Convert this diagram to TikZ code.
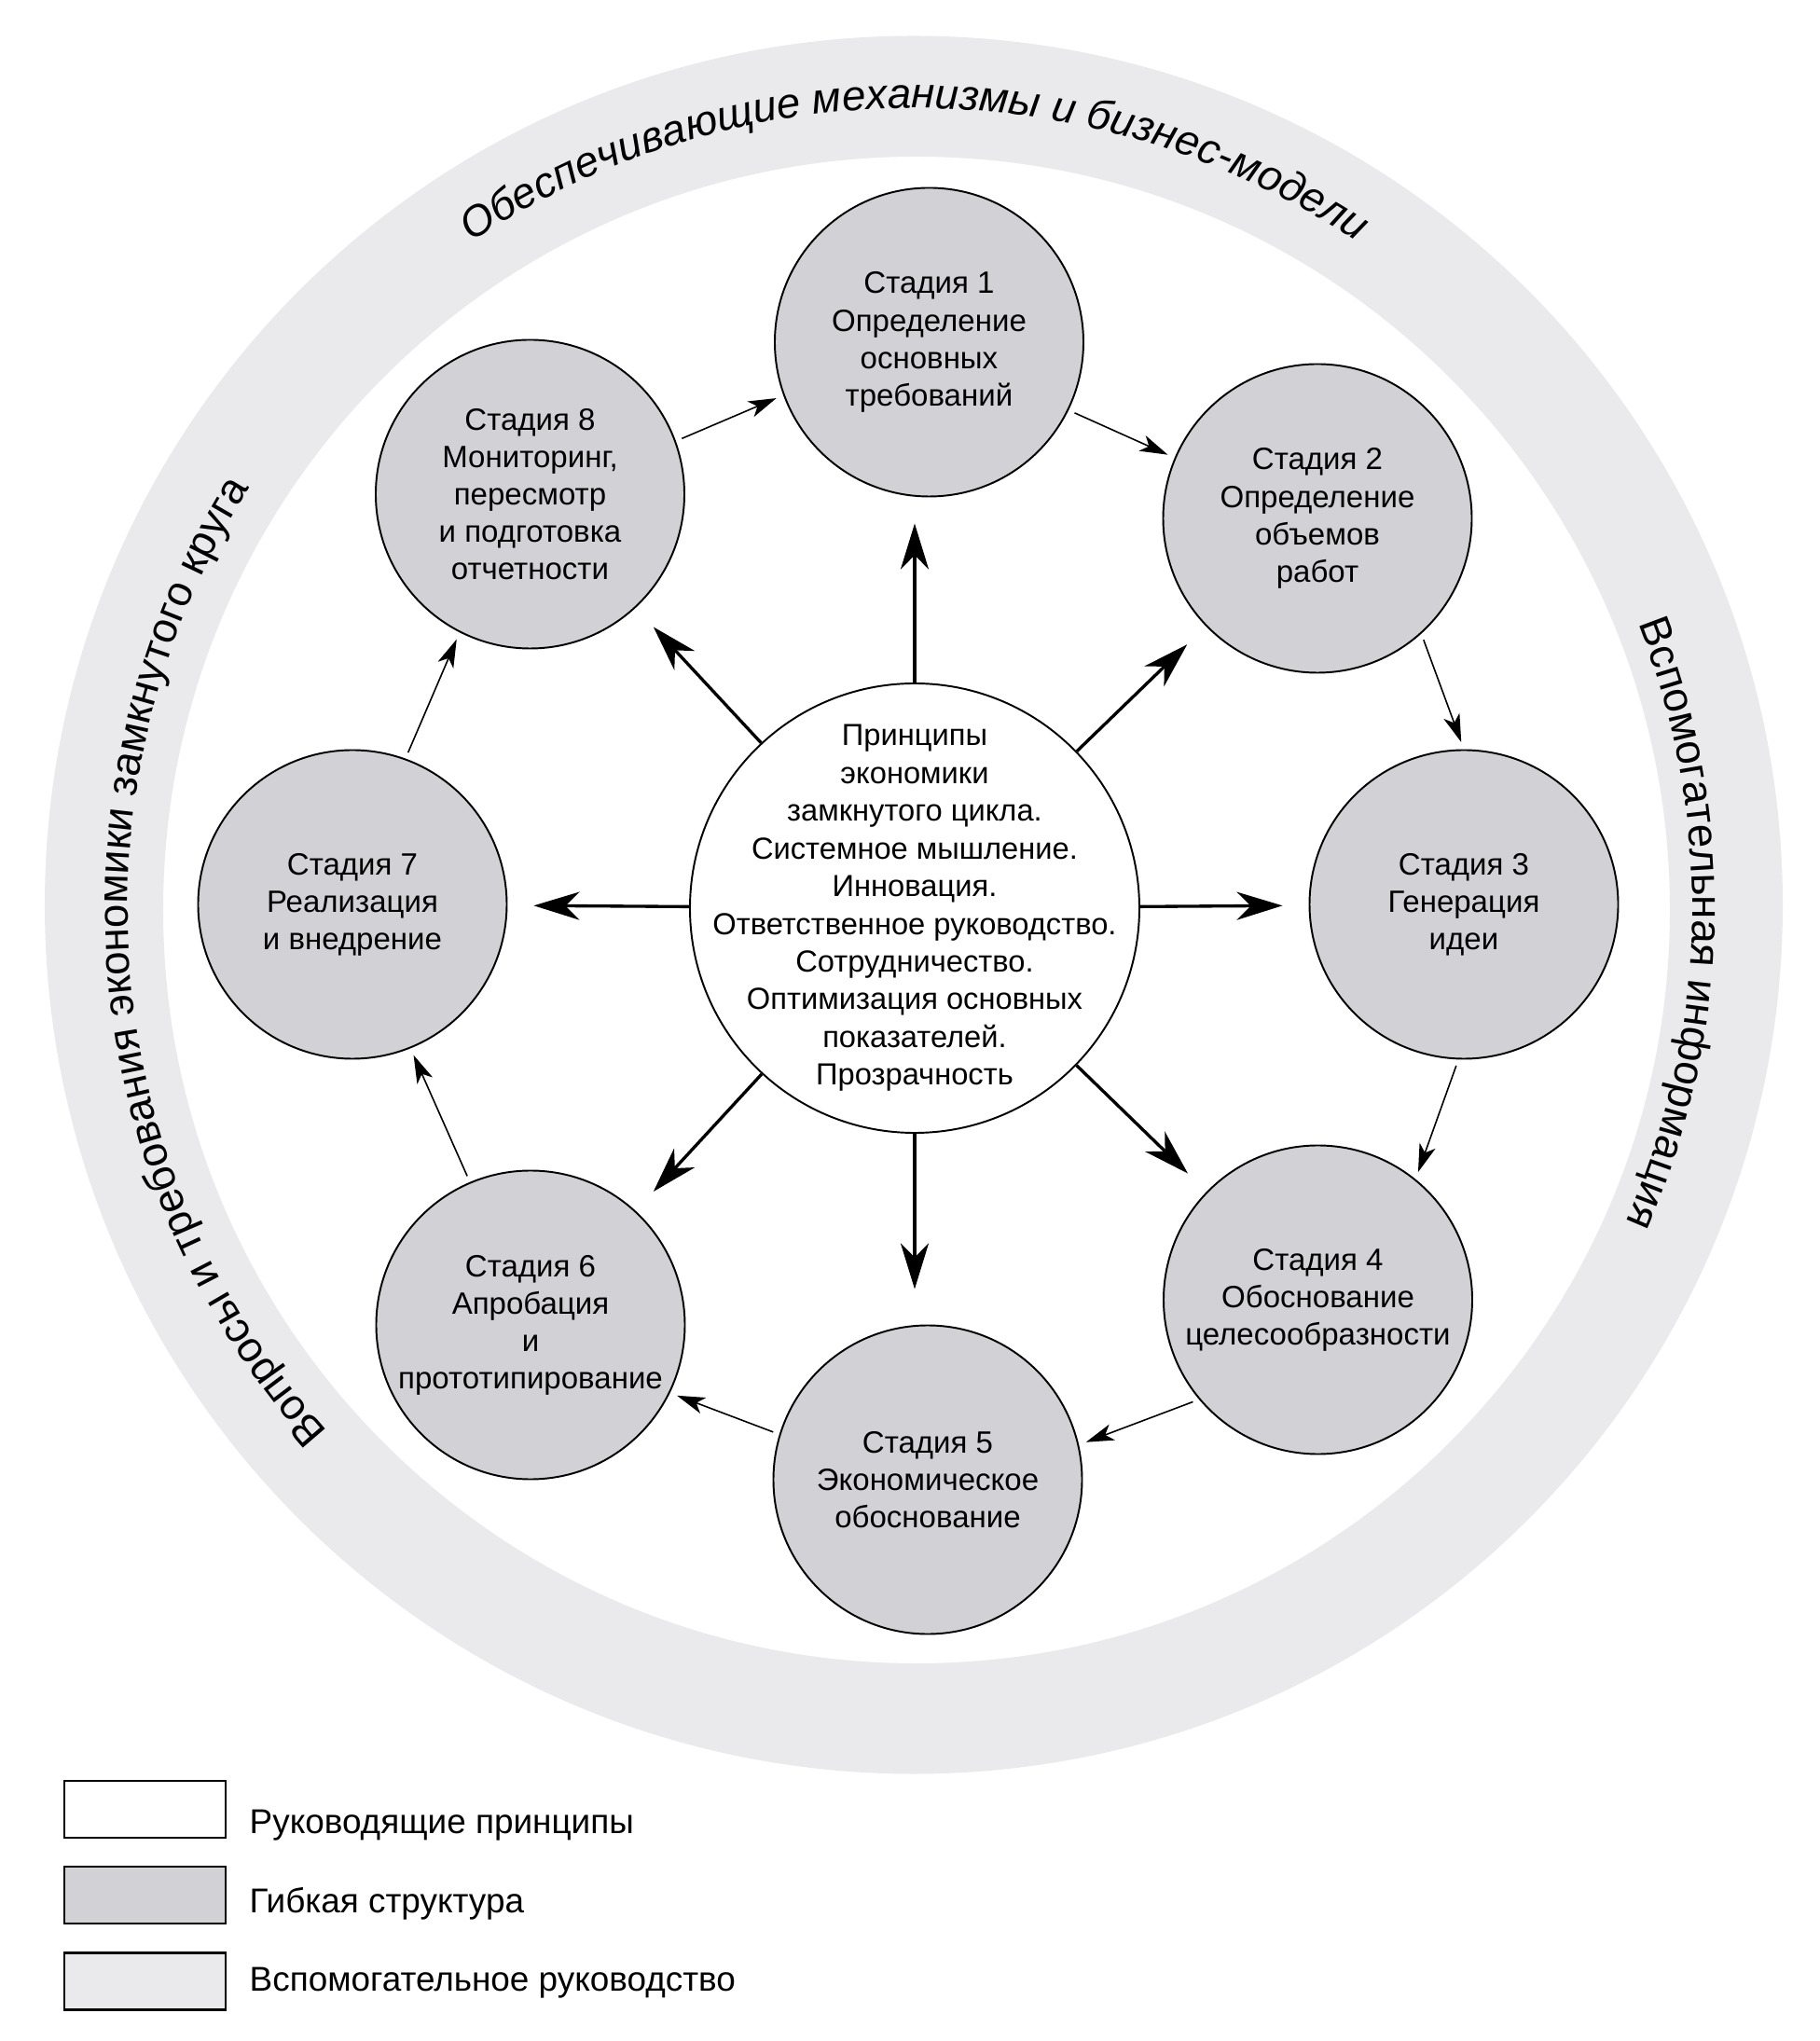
\documentclass[tikz,border=0pt]{standalone}
\usepackage{fontspec}
\setmainfont{Liberation Sans}
\usetikzlibrary{arrows.meta,decorations.text}
\definecolor{stagegray}{RGB}{210,209,213}
\definecolor{ringgray}{RGB}{234,233,236}
\tikzset{
  stage/.style={draw,circle,fill=stagegray,inner sep=0,minimum size=3.31cm,line width=0.55pt,align=center,font=\fontsize{9.4}{11.4}\selectfont},
  hub/.style={draw,circle,fill=white,inner sep=-0.6cm,minimum size=4.82cm,line width=0.55pt,align=center,font=\fontsize{9.3}{11.5}\selectfont},
  flow/.style={-{Stealth[length=0.3cm,width=0.18cm,inset=0.08cm]},line width=0.45pt,shorten <=0.07cm,shorten >=0.08cm},
  push/.style={-{Stealth[length=0.49cm,width=0.3cm,inset=0.15cm]},line width=0.95pt,shorten >=0.28cm},
  key/.style={draw,line width=0.8pt,minimum width=1.73cm,minimum height=0.61cm,inner sep=0},
  keytext/.style={anchor=west,inner sep=0,font=\fontsize{10.5}{12.6}\selectfont},
  ringtext/.style={decorate,decoration={text along path,text align=center,text={#1}}}
}
\begin{document}
\begin{tikzpicture}
  \useasboundingbox (-9.81,-12.15) rectangle (9.70,9.74);
  \fill[ringgray,even odd rule] (-0.01,0.035) circle[radius=9.32] (0.02,-0.02) circle[radius=8.08];
  \path[ringtext={|\fontsize{13}{15}\selectfont\itshape|Обеспечивающие механизмы и бизнес-модели}] (170:8.58) arc[start angle=170,end angle=10,radius=8.58];
  \path[ringtext={|\fontsize{13}{15}\selectfont|Вопросы и требования экономики замкнутого круга}] (264.7:8.44) arc[start angle=264.7,end angle=104.7,radius=8.44];
  \path[ringtext={|\fontsize{13}{15}\selectfont|Вспомогательная информация}] (78.8:8.34) arc[start angle=78.8,end angle=-81.2,radius=8.34];

  \node[hub] (hub) at (0,0) {Принципы\\экономики\\замкнутого цикла.\\Системное мышление.\\Инновация.\\Ответственное руководство.\\Сотрудничество.\\Оптимизация основных\\показателей.\\Прозрачность};
  \node[stage] (st1) at (0.155,6.07) {Стадия 1\\Определение\\основных\\требований};
  \node[stage] (st2) at (4.32,4.18) {Стадия 2\\Определение\\объемов\\работ};
  \node[stage] (st3) at (5.89,0.04) {Стадия 3\\Генерация\\идеи};
  \node[stage] (st4) at (4.325,-4.20) {Стадия 4\\Обоснование\\целесообразности};
  \node[stage] (st5) at (0.14,-6.13) {Стадия 5\\Экономическое\\обоснование};
  \node[stage] (st6) at (-4.12,-4.47) {Стадия 6\\Апробация\\и\\прототипирование};
  \node[stage] (st7) at (-6.03,0.04) {Стадия 7\\Реализация\\и внедрение};
  \node[stage] (st8) at (-4.125,4.44) {Стадия 8\\Мониторинг,\\пересмотр\\и подготовка\\отчетности};

  \draw[flow] (st8.20) -- (st1.200);
  \draw[flow] (st1.-26) -- (st2.157);
  \draw[flow] (st2.-48) -- (st3.90);
  \draw[flow] (st3.-92) -- (st4.51);
  \draw[flow] (st4.220) -- (st5.13);
  \draw[flow] (st5.163) -- (st6.-26);
  \draw[flow] (st6.113) -- (st7.-68);
  \draw[flow] (st7.70) -- (st8.-117);

  \foreach \s in {st2,st3,st4,st6,st7,st8}
    \draw[push] (hub) -- (\s);
  \draw[push] (hub.north) -- (hub.north |- st1.south);
  \draw[push,shorten >=0.38cm] (hub.south) -- (hub.south |- st5.north);

  \node[key,fill=white] (keyguide) at (-8.255,-9.665) {};
  \node[key,fill=stagegray] (keyframe) at (-8.255,-10.585) {};
  \node[key,fill=ringgray] (keysupport) at (-8.255,-11.51) {};
  \path (-7.14,-9.84) node[keytext] (txtguide) {Руководящие принципы};
  \path (-7.14,-10.68) node[keytext] (txtframe) {Гибкая структура};
  \path (-7.14,-11.53) node[keytext] (txtsupport) {Вспомогательное руководство};
\end{tikzpicture}
\end{document}
